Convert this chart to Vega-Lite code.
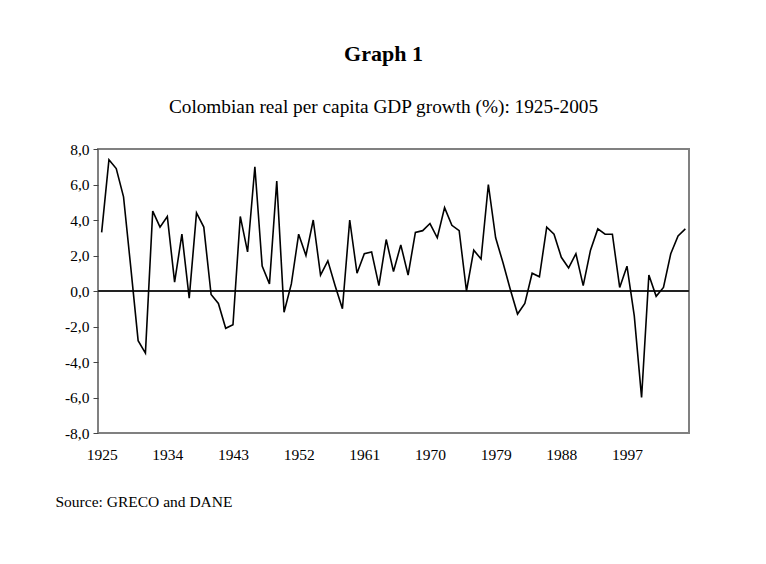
{
  "$schema": "https://vega.github.io/schema/vega-lite/v6.json",
  "autosize": "none",
  "width": 591,
  "height": 284,
  "padding": {"left": 98, "top": 149, "right": 77, "bottom": 131},
  "background": "white",
  "title": {
    "text": "Graph 1",
    "subtitle": "Colombian real per capita GDP growth (%): 1925-2005",
    "anchor": "middle",
    "dx": -10,
    "offset": 24,
    "font": "Liberation Serif",
    "fontSize": 22,
    "fontWeight": "bold",
    "color": "black",
    "subtitleFont": "Liberation Serif",
    "subtitleFontSize": 19.3,
    "subtitleColor": "black",
    "subtitlePadding": 32
  },
  "data": {
    "values": [
      {"year": 1925, "growth": 3.3}, {"year": 1926, "growth": 7.4}, {"year": 1927, "growth": 6.9},
      {"year": 1928, "growth": 5.3}, {"year": 1929, "growth": 1.3}, {"year": 1930, "growth": -2.8},
      {"year": 1931, "growth": -3.5}, {"year": 1932, "growth": 4.5}, {"year": 1933, "growth": 3.6},
      {"year": 1934, "growth": 4.2}, {"year": 1935, "growth": 0.5}, {"year": 1936, "growth": 3.2},
      {"year": 1937, "growth": -0.4}, {"year": 1938, "growth": 4.4}, {"year": 1939, "growth": 3.6},
      {"year": 1940, "growth": -0.2}, {"year": 1941, "growth": -0.7}, {"year": 1942, "growth": -2.1},
      {"year": 1943, "growth": -1.9}, {"year": 1944, "growth": 4.2}, {"year": 1945, "growth": 2.2},
      {"year": 1946, "growth": 7.0}, {"year": 1947, "growth": 1.4}, {"year": 1948, "growth": 0.4},
      {"year": 1949, "growth": 6.2}, {"year": 1950, "growth": -1.2}, {"year": 1951, "growth": 0.4},
      {"year": 1952, "growth": 3.2}, {"year": 1953, "growth": 2.0}, {"year": 1954, "growth": 4.0},
      {"year": 1955, "growth": 0.9}, {"year": 1956, "growth": 1.7}, {"year": 1957, "growth": 0.3},
      {"year": 1958, "growth": -1.0}, {"year": 1959, "growth": 4.0}, {"year": 1960, "growth": 1.0},
      {"year": 1961, "growth": 2.1}, {"year": 1962, "growth": 2.2}, {"year": 1963, "growth": 0.3},
      {"year": 1964, "growth": 2.9}, {"year": 1965, "growth": 1.1}, {"year": 1966, "growth": 2.6},
      {"year": 1967, "growth": 0.9}, {"year": 1968, "growth": 3.3}, {"year": 1969, "growth": 3.4},
      {"year": 1970, "growth": 3.8}, {"year": 1971, "growth": 3.0}, {"year": 1972, "growth": 4.7},
      {"year": 1973, "growth": 3.7}, {"year": 1974, "growth": 3.4}, {"year": 1975, "growth": 0.0},
      {"year": 1976, "growth": 2.3}, {"year": 1977, "growth": 1.8}, {"year": 1978, "growth": 6.0},
      {"year": 1979, "growth": 3.0}, {"year": 1980, "growth": 1.6}, {"year": 1981, "growth": 0.1},
      {"year": 1982, "growth": -1.3}, {"year": 1983, "growth": -0.7}, {"year": 1984, "growth": 1.0},
      {"year": 1985, "growth": 0.8}, {"year": 1986, "growth": 3.6}, {"year": 1987, "growth": 3.2},
      {"year": 1988, "growth": 1.9}, {"year": 1989, "growth": 1.3}, {"year": 1990, "growth": 2.1},
      {"year": 1991, "growth": 0.3}, {"year": 1992, "growth": 2.3}, {"year": 1993, "growth": 3.5},
      {"year": 1994, "growth": 3.2}, {"year": 1995, "growth": 3.2}, {"year": 1996, "growth": 0.2},
      {"year": 1997, "growth": 1.4}, {"year": 1998, "growth": -1.4}, {"year": 1999, "growth": -6.0},
      {"year": 2000, "growth": 0.9}, {"year": 2001, "growth": -0.3}, {"year": 2002, "growth": 0.2},
      {"year": 2003, "growth": 2.1}, {"year": 2004, "growth": 3.1}, {"year": 2005, "growth": 3.5}
    ]
  },
  "layer": [
    {
      "mark": {"type": "rule", "color": "#222222", "strokeWidth": 1},
      "encoding": {"y": {"datum": 0, "type": "quantitative"}}
    },
    {
      "mark": {"type": "line", "color": "black", "strokeWidth": 1.6, "strokeJoin": "miter"},
      "encoding": {
        "x": {
          "field": "year",
          "type": "quantitative",
          "scale": {"domain": [1924.5, 2005.5], "nice": false, "zero": false},
          "axis": {
            "values": [1925, 1934, 1943, 1952, 1961, 1970, 1979, 1988, 1997],
            "tickCount": 20,
            "format": "d",
            "grid": false,
            "ticks": false,
            "domain": false,
            "labelOverlap": false,
            "labelPadding": 14,
            "labelFont": "Liberation Serif",
            "labelFontSize": 15.5,
            "labelColor": "black",
            "title": "Source: GRECO and DANE",
            "titleX": -43,
            "titleY": 73,
            "titleAlign": "left",
            "titleAnchor": "start",
            "titleBaseline": "alphabetic",
            "titleFont": "Liberation Serif",
            "titleFontSize": 15.5,
            "titleFontWeight": "normal",
            "titleColor": "black"
          }
        },
        "y": {
          "field": "growth",
          "type": "quantitative",
          "scale": {"domain": [-8, 8], "nice": false},
          "axis": {
            "values": [-8, -6, -4, -2, 0, 2, 4, 6, 8],
            "tickCount": 20,
            "labelExpr": "replace(replace(format(datum.value, '.1f'), '.', ','), '\u2212', '-')",
            "labelOverlap": false,
            "grid": false,
            "domain": false,
            "tickSize": 5,
            "tickColor": "#444444",
            "tickWidth": 1,
            "labelPadding": 4,
            "labelFont": "Liberation Serif",
            "labelFontSize": 15.5,
            "labelColor": "black",
            "title": null
          }
        }
      }
    }
  ],
  "config": {
    "view": {"stroke": "#808080", "strokeWidth": 2}
  }
}
